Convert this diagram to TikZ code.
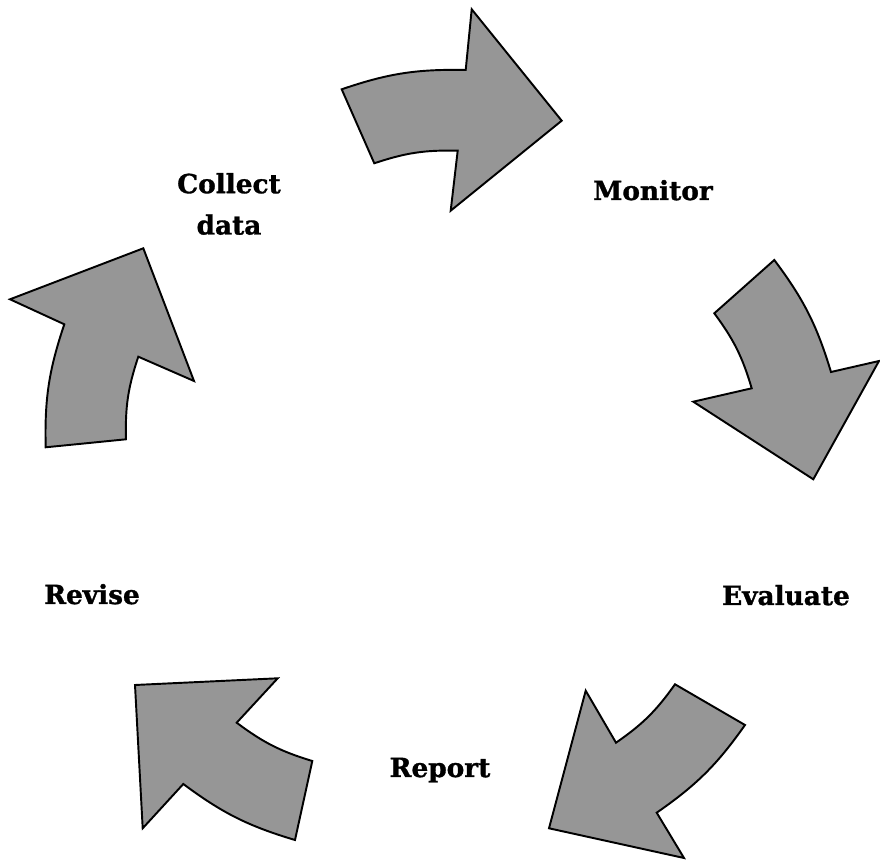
\documentclass[tikz,border=0pt]{standalone}
\usepackage{fontspec}
\setmainfont{DejaVu Serif}[BoldFeatures={FakeBold=1.2}]
\definecolor{arrowgray}{RGB}{150,150,150}
\begin{document}
\begin{tikzpicture}[x=0.02cm,y=-0.02cm,
  cyclearrow/.style={draw=black, line width=1.1pt, fill=arrowgray, line join=miter},
  steplabel/.style={font=\fontsize{15}{23.5}\selectfont\bfseries, align=center, inner sep=0pt}]
\useasboundingbox (0,0) rectangle (880,861);

% arrow: Collect data -> Monitor
\draw[cyclearrow] (341.7,89.3) to[bend left=10] (465.7,70) -- (471.7,9.3) -- (561.7,120.7)
  -- (450.7,210.7) -- (457.7,150.7) to[bend right=10] (374.3,163.3) -- cycle;
% arrow: Monitor -> Evaluate
\draw[cyclearrow] (774.3,260) to[bend left=10] (831,372) -- (879,361) -- (813.3,479.3)
  -- (693.3,401.7) -- (751.7,388.3) to[bend right=10] (714.3,313.3) -- cycle;
% arrow: Evaluate -> Report
\draw[cyclearrow] (745,725) to[bend left=10] (656.7,812.7) -- (684,858) -- (549,828.3)
  -- (585.7,690.7) -- (616,742.7) to[bend right=10] (675,684.3) -- cycle;
% arrow: Report -> Revise
\draw[cyclearrow] (295,840) to[bend left=10] (183.3,784) -- (142.7,828.3) -- (135,685)
  -- (277.7,678.3) -- (236.7,722.7) to[bend right=10] (312.3,761) -- cycle;
% arrow: Revise -> Collect data
\draw[cyclearrow] (45.7,447.3) to[bend left=10] (64.3,324.3) -- (10,299.3) -- (143.3,248.3)
  -- (194,381) -- (138.3,356.7) to[bend right=10] (126,439.3) -- cycle;

\node[steplabel] (collect) at (229,204) {Collect\\data};
\node[steplabel, anchor=base] (monitor) at (653,200) {Monitor};
\node[steplabel, anchor=base] (evaluate) at (786,605) {Evaluate};
\node[steplabel, anchor=base] (report) at (440,777) {Report};
\node[steplabel, anchor=base] (revise) at (92,604) {Revise};
\end{tikzpicture}
\end{document}
